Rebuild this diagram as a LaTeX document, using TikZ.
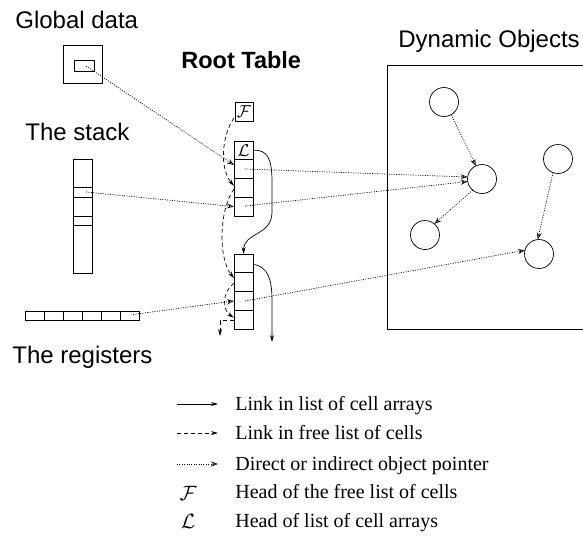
\documentclass[tikz,border=0pt]{standalone}
\usepackage{fontspec}
\setmainfont{Liberation Serif}
\newfontfamily\lsans{Liberation Sans}
\usetikzlibrary{arrows.meta}
\begin{document}
\begin{tikzpicture}[x=1pt,y=-1pt,line width=0.7pt,
  cell/.style={draw,inner sep=0pt,outer sep=0pt,minimum width=19pt,minimum height=18.75pt},
  obj/.style={draw,circle,inner sep=0pt,outer sep=0pt,minimum size=29pt},
  box/.style={draw,inner sep=0pt,outer sep=0pt},
  lbl/.style={font=\lsans\fontsize{24}{28}\selectfont,anchor=base west,inner sep=0pt},
  leg/.style={font=\fontsize{20}{24}\selectfont,anchor=base west,inner sep=0pt},
  solidarrow/.style={-{Stealth[length=7pt,width=4pt]}},
  dasharrow/.style={dash pattern=on 4pt off 3pt,-{Stealth[length=7pt,width=4pt]}},
  dotarrow/.style={dash pattern=on 1pt off 1.4pt,-{Stealth[open,length=7pt,width=5pt]}}]
\useasboundingbox (0,0) rectangle (583,539);

% labels
\node[lbl] (tgd) at (15,28) {Global data};
\node[lbl] (tst) at (25,140) {The stack};
\node[lbl] (treg) at (12,363) {The registers};
\node[lbl,font=\lsans\bfseries\fontsize{23.5}{28}\selectfont] (trt) at (181,68) {Root Table};
\node[lbl] (tdo) at (398,47) {Dynamic Objects};

% global data
\node[box,minimum width=39pt,minimum height=38pt] (gd) at (82.5,64) {};
\node[box,minimum width=20pt,minimum height=11pt] (gdi) at (84,65.5) {};
\coordinate (gdp) at (86,66);

% stack
\node[box,minimum width=19pt,minimum height=114pt] (stk) at (82.5,216) {};
\node[box,minimum width=19pt,minimum height=10pt] (sc1) at (82.5,192) {};
\node[box,minimum width=19pt,minimum height=9pt] (sc2) at (82.5,220.5) {};
\coordinate (stp) at (86,192);

% registers
\foreach \i/\x in {1/34.5,2/53.5,3/72.5,4/91.5,5/110.5,6/129.5}
  \node[box,minimum width=19pt,minimum height=9pt] (r\i) at (\x,315.5) {};
\coordinate (rp) at (133,314.5);

% root table
\node[box,minimum width=18pt,minimum height=19pt,font=\fontsize{17}{20}\selectfont] (F) at (244,111.5) {$\mathcal{F}$};
\node[cell,font=\fontsize{17}{20}\selectfont] (a1c0) at (243.5,150.4) {$\mathcal{L}$};
\node[cell] (a1c1) at (243.5,169.1) {};
\node[cell] (a1c2) at (243.5,187.9) {};
\node[cell] (a1c3) at (243.5,206.6) {};
\node[cell] (a2c0) at (243.5,263.4) {};
\node[cell] (a2c1) at (243.5,282.1) {};
\node[cell] (a2c2) at (243.5,300.9) {};
\node[cell] (a2c3) at (243.5,319.6) {};
\coordinate (p11) at (245,169);
\coordinate (p13) at (245,206);
\coordinate (p22) at (245,301);
\coordinate (nil) at (220,336);
\coordinate (end2) at (272,342);

% dynamic objects
\draw (583,65) -- (387,65) -- (387,329) -- (583,329);
\node[obj] (o1) at (444,102) {};
\node[obj] (o2) at (482,179) {};
\node[obj] (o3) at (558,159) {};
\node[obj] (o4) at (425,235) {};
\node[obj] (o5) at (539,254) {};

% solid links
\draw[solidarrow] (a1c0.east) .. controls (268,149) and (272,160) .. (272,182)
  -- (272,212) .. controls (272,236) and (244,232) .. (a2c0.north);
\draw[solidarrow] ([yshift=-1pt]a2c0.east) .. controls (268,266) and (272,280) .. (272,300) -- (end2);

% dashed free list
\draw[dasharrow] ([xshift=-1pt,yshift=3pt]F.south west) .. controls (222,135) and (219,168) .. ([yshift=2pt]a1c2.west);
\draw[dasharrow] ([yshift=-1pt]a1c2.west) .. controls (219,210) and (218,258) .. ([yshift=4pt]a2c1.west);
\draw[dasharrow] ([yshift=-1pt]a2c1.west) .. controls (222,292) and (222,310) .. ([yshift=2pt]a2c3.west);
\draw[dasharrow] ([yshift=-1pt]a2c3.west) -- (220,320.6) -- (nil);

% dotted pointers
\draw[dotarrow] (gdp) -- ([yshift=4pt]a1c1.west);
\draw[dotarrow] (stp) -- (a1c3.west);
\draw[dotarrow] (rp) -- (a2c2.west);
\draw[dotarrow] (p11) -- (o2.172);
\draw[dotarrow] (p13) -- (o2.190);
\draw[dotarrow] (p22) -- (o5.165);
\draw[dotarrow] (o1.-60) -- (o2.115);
\draw[dotarrow] (o2.-130) -- (o4.50);
\draw[dotarrow] (o3.-110) -- (o5.95);

% legend
\coordinate (l1a) at (177,404); \coordinate (l1b) at (218,404);
\coordinate (l2a) at (177,433); \coordinate (l2b) at (218,433);
\coordinate (l3a) at (177,464); \coordinate (l3b) at (218,464);
\draw[solidarrow] (l1a) -- (l1b);
\draw[dasharrow] (l2a) -- (l2b);
\draw[dotarrow] (l3a) -- (l3b);
\node[leg] (t1) at (235,410) {Link in list of cell arrays};
\node[leg] (t2) at (235,439) {Link in free list of cells};
\node[leg] (t3) at (235,470) {Direct or indirect object pointer};
\node[leg] (t4) at (235,498) {Head of the free list of cells};
\node[leg] (t5) at (235,527) {Head of list of cell arrays};
\node[inner sep=0pt,font=\fontsize{20}{24}\selectfont] (sF) at (188,493) {$\mathcal{F}$};
\node[inner sep=0pt,font=\fontsize{20}{24}\selectfont] (sL) at (188,521) {$\mathcal{L}$};
\end{tikzpicture}
\end{document}
